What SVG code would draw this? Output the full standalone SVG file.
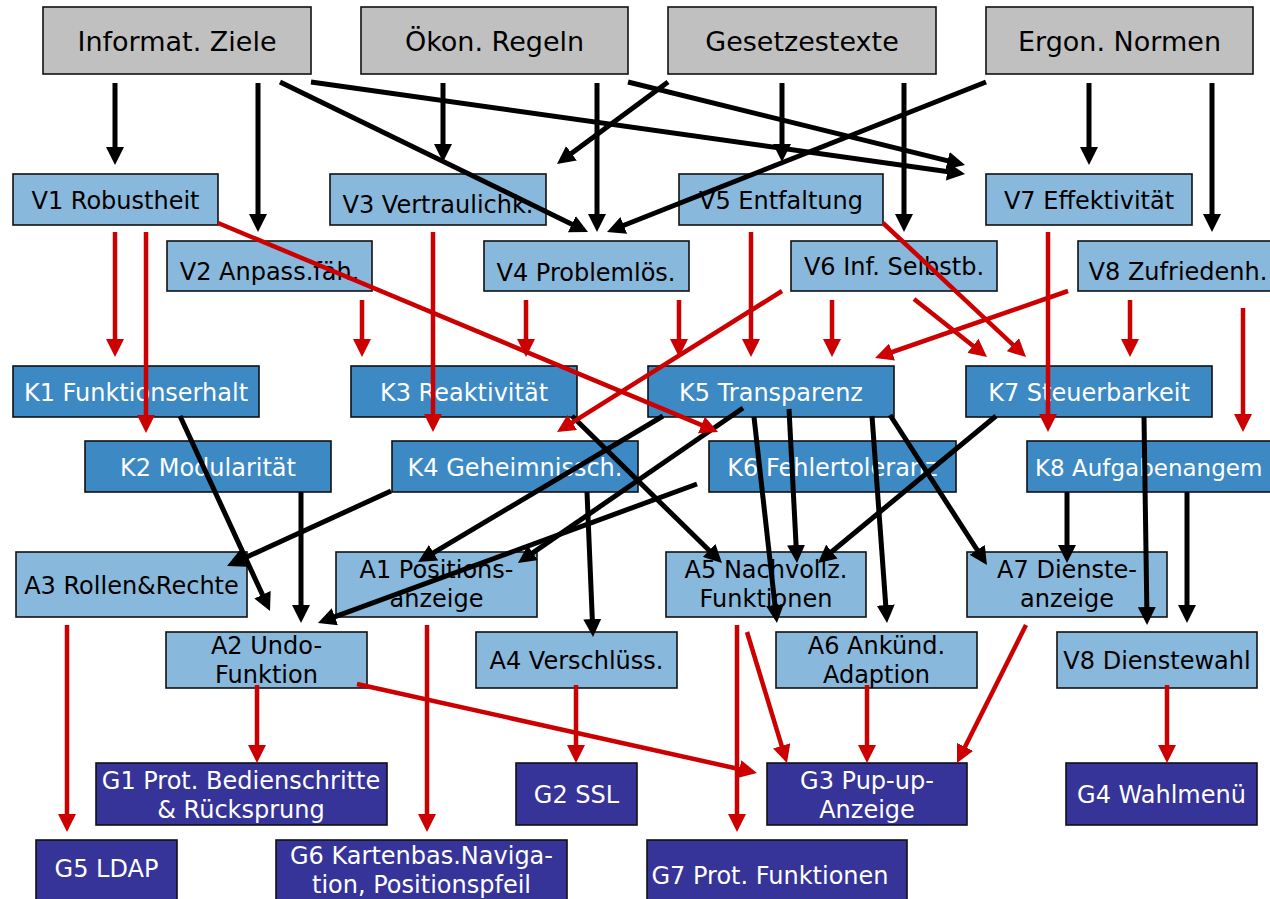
<svg xmlns="http://www.w3.org/2000/svg" width="1270" height="899" viewBox="0 0 1270 899">
<style>
rect{stroke:#111;stroke-width:1.6}
.t rect{fill:#C0C0C0}
.v rect,.a rect{fill:#88B8DB}
.k rect{fill:#3C89C4}
.g rect{fill:#363399}
text{font-family:"DejaVu Sans",Verdana,sans-serif;font-size:24px;text-anchor:middle;fill:#000}
.t text{font-size:27px}
.k text,.g text{fill:#fff}
.bk line{stroke:#000;stroke-width:5;marker-end:url(#ab)}
.rd line{stroke:#CC0000;stroke-width:4.5;marker-end:url(#ar)}
</style>
<defs>
<marker id="ab" markerUnits="userSpaceOnUse" markerWidth="18" markerHeight="18" viewBox="0 0 18 18" refX="12" refY="9" orient="auto"><path d="M0,0 L18,9 L0,18 z" fill="#000"/></marker>
<marker id="ar" markerUnits="userSpaceOnUse" markerWidth="18" markerHeight="18" viewBox="0 0 18 18" refX="12" refY="9" orient="auto"><path d="M0,0 L18,9 L0,18 z" fill="#CC0000"/></marker>
</defs>
<rect x="0" y="0" width="1270" height="899" style="fill:#fff;stroke:none"/>
<g id="T1" class="t"><rect x="43" y="7" width="268" height="67"/><text x="177" y="51">Informat. Ziele</text></g>
<g id="T2" class="t"><rect x="361" y="7" width="267" height="67"/><text x="494.5" y="51">Ökon. Regeln</text></g>
<g id="T3" class="t"><rect x="668" y="7" width="268" height="67"/><text x="802" y="51">Gesetzestexte</text></g>
<g id="T4" class="t"><rect x="986" y="7" width="267" height="67"/><text x="1119.5" y="51">Ergon. Normen</text></g>
<g id="V1" class="v"><rect x="13" y="174" width="205" height="51"/><text x="115.5" y="209">V1 Robustheit</text></g>
<g id="V2" class="v"><rect x="167" y="241" width="205" height="50"/><text x="269.5" y="280">V2 Anpass.fäh.</text></g>
<g id="V3" class="v"><rect x="330" y="174" width="216" height="51"/><text x="438" y="213">V3 Vertraulichk.</text></g>
<g id="V4" class="v"><rect x="484" y="241" width="205" height="50"/><text x="586" y="281">V4 Problemlös.</text></g>
<g id="V5" class="v"><rect x="679" y="174" width="204" height="51"/><text x="781" y="209">V5 Entfaltung</text></g>
<g id="V6" class="v"><rect x="791" y="241" width="206" height="50"/><text x="894" y="275">V6 Inf. Selbstb.</text></g>
<g id="V7" class="v"><rect x="986" y="174" width="206" height="51"/><text x="1089" y="209">V7 Effektivität</text></g>
<g id="V8" class="v"><rect x="1078" y="241" width="210" height="50"/><text x="1178" y="280">V8 Zufriedenh.</text></g>
<g id="K1" class="k"><rect x="13" y="366" width="246" height="51"/><text x="136" y="401">K1 Funktionserhalt</text></g>
<g id="K3" class="k"><rect x="351" y="366" width="226" height="51"/><text x="464" y="401">K3 Reaktivität</text></g>
<g id="K5" class="k"><rect x="648" y="366" width="246" height="51"/><text x="771" y="401">K5 Transparenz</text></g>
<g id="K7" class="k"><rect x="966" y="366" width="246" height="51"/><text x="1089" y="401">K7 Steuerbarkeit</text></g>
<g id="K2" class="k"><rect x="85" y="441" width="246" height="51"/><text x="208" y="476">K2 Modularität</text></g>
<g id="K4" class="k"><rect x="392" y="441" width="246" height="51"/><text x="515" y="476">K4 Geheimnissch.</text></g>
<g id="K6" class="k"><rect x="709" y="441" width="247" height="51"/><text x="832.5" y="476">K6 Fehlertoleranz</text></g>
<g id="K8" class="k"><rect x="1027" y="441" width="260" height="51"/><text x="1035" y="476" style="text-anchor:start;font-size:23px">K8 Aufgabenangem</text></g>
<g id="A3" class="a"><rect x="16" y="552" width="231" height="65"/><text x="131.5" y="594">A3 Rollen&amp;Rechte</text></g>
<g id="A1" class="a"><rect x="336" y="552" width="201" height="65"/><text x="436.5" y="578">A1 Positions-</text><text x="436.5" y="607">anzeige</text></g>
<g id="A5" class="a"><rect x="666" y="552" width="200" height="65"/><text x="766" y="578">A5 Nachvollz.</text><text x="766" y="607">Funktionen</text></g>
<g id="A7" class="a"><rect x="967" y="552" width="200" height="65"/><text x="1067" y="578">A7 Dienste-</text><text x="1067" y="607">anzeige</text></g>
<g id="A2" class="a"><rect x="166" y="632" width="201" height="56"/><text x="266.5" y="654">A2 Undo-</text><text x="266.5" y="683">Funktion</text></g>
<g id="A4" class="a"><rect x="476" y="632" width="201" height="56"/><text x="576.5" y="669">A4 Verschlüss.</text></g>
<g id="A6" class="a"><rect x="776" y="632" width="201" height="56"/><text x="876.5" y="654">A6 Ankünd.</text><text x="876.5" y="683">Adaption</text></g>
<g id="A8" class="a"><rect x="1057" y="632" width="200" height="56"/><text x="1157" y="669">V8 Dienstewahl</text></g>
<g id="G1" class="g"><rect x="96" y="763" width="291" height="62"/><text x="241" y="789">G1 Prot. Bedienschritte</text><text x="241" y="818">&amp; Rücksprung</text></g>
<g id="G2" class="g"><rect x="516" y="763" width="121" height="62"/><text x="576.5" y="803">G2 SSL</text></g>
<g id="G3" class="g"><rect x="767" y="763" width="200" height="62"/><text x="867" y="789">G3 Pup-up-</text><text x="867" y="818">Anzeige</text></g>
<g id="G4" class="g"><rect x="1066" y="763" width="191" height="62"/><text x="1161.5" y="803">G4 Wahlmenü</text></g>
<g id="G5" class="g"><rect x="36" y="840" width="141" height="70"/><text x="106.5" y="877">G5 LDAP</text></g>
<g id="G6" class="g"><rect x="276" y="840" width="291" height="70"/><text x="421.5" y="864">G6 Kartenbas.Naviga-</text><text x="421.5" y="893">tion, Positionspfeil</text></g>
<g id="G7" class="g"><rect x="647" y="840" width="260" height="70"/><text x="770" y="884">G7 Prot. Funktionen</text></g>
<g id="connectors">
<g class="bk">
<line x1="115" y1="83" x2="115" y2="159"/>
<line x1="258" y1="83" x2="258" y2="226"/>
<line x1="280" y1="82" x2="582.6" y2="229.4"/>
<line x1="311" y1="82" x2="959.1" y2="173.2"/>
<line x1="443" y1="83" x2="443" y2="156"/>
<line x1="597" y1="83" x2="597" y2="226"/>
<line x1="628" y1="82" x2="959.2" y2="163.6"/>
<line x1="668" y1="82" x2="561.8" y2="160.4"/>
<line x1="782" y1="83" x2="782" y2="156"/>
<line x1="904" y1="83" x2="904" y2="226"/>
<line x1="986" y1="82" x2="612.6" y2="229.8"/>
<line x1="1089" y1="83" x2="1089" y2="159"/>
<line x1="1212" y1="83" x2="1212" y2="226"/>
<line x1="180" y1="416" x2="267.5" y2="605.6"/>
<line x1="301" y1="492" x2="301" y2="617"/>
<line x1="391" y1="491" x2="232.5" y2="563.5"/>
<line x1="663" y1="416" x2="423.2" y2="558.9"/>
<line x1="697" y1="484" x2="323.6" y2="620.9"/>
<line x1="743" y1="408" x2="522.9" y2="559.6"/>
<line x1="572" y1="416" x2="717.7" y2="558.8"/>
<line x1="587" y1="492" x2="592.8" y2="631"/>
<line x1="754" y1="417" x2="776.3" y2="617"/>
<line x1="789" y1="409" x2="796.7" y2="557"/>
<line x1="996" y1="416" x2="822.6" y2="559.2"/>
<line x1="872" y1="416" x2="886.6" y2="617"/>
<line x1="890" y1="415" x2="983.7" y2="560"/>
<line x1="1067" y1="492" x2="1067" y2="557"/>
<line x1="1144" y1="417" x2="1147" y2="619"/>
<line x1="1187" y1="492" x2="1187" y2="617"/>
</g>
<g class="rd">
<line x1="115" y1="232" x2="115" y2="351"/>
<line x1="146" y1="232" x2="146" y2="427"/>
<line x1="362" y1="300" x2="362" y2="351"/>
<line x1="218" y1="223" x2="712.5" y2="429.7"/>
<line x1="433" y1="232" x2="433" y2="426"/>
<line x1="526" y1="300" x2="526" y2="351"/>
<line x1="679" y1="300" x2="679" y2="351"/>
<line x1="751" y1="232" x2="751" y2="351"/>
<line x1="782" y1="291" x2="562.1" y2="428.8"/>
<line x1="832" y1="300" x2="832" y2="351"/>
<line x1="883" y1="223" x2="1021.6" y2="352.9"/>
<line x1="914" y1="299" x2="982.3" y2="353.3"/>
<line x1="1048" y1="232" x2="1048" y2="426"/>
<line x1="1068" y1="291" x2="880.7" y2="356"/>
<line x1="1130" y1="300" x2="1130" y2="351"/>
<line x1="1243" y1="308" x2="1243" y2="426"/>
<line x1="67" y1="625" x2="67" y2="826"/>
<line x1="257" y1="685" x2="257" y2="757"/>
<line x1="427" y1="625" x2="427" y2="826"/>
<line x1="357" y1="684" x2="751.1" y2="771.7"/>
<line x1="576" y1="685" x2="576" y2="757"/>
<line x1="737" y1="625" x2="737" y2="826"/>
<line x1="747" y1="632" x2="785.2" y2="757.3"/>
<line x1="867" y1="685" x2="867" y2="757"/>
<line x1="1026" y1="625" x2="959.7" y2="757.6"/>
<line x1="1167" y1="685" x2="1167" y2="757"/>
</g>
</g>
</svg>
